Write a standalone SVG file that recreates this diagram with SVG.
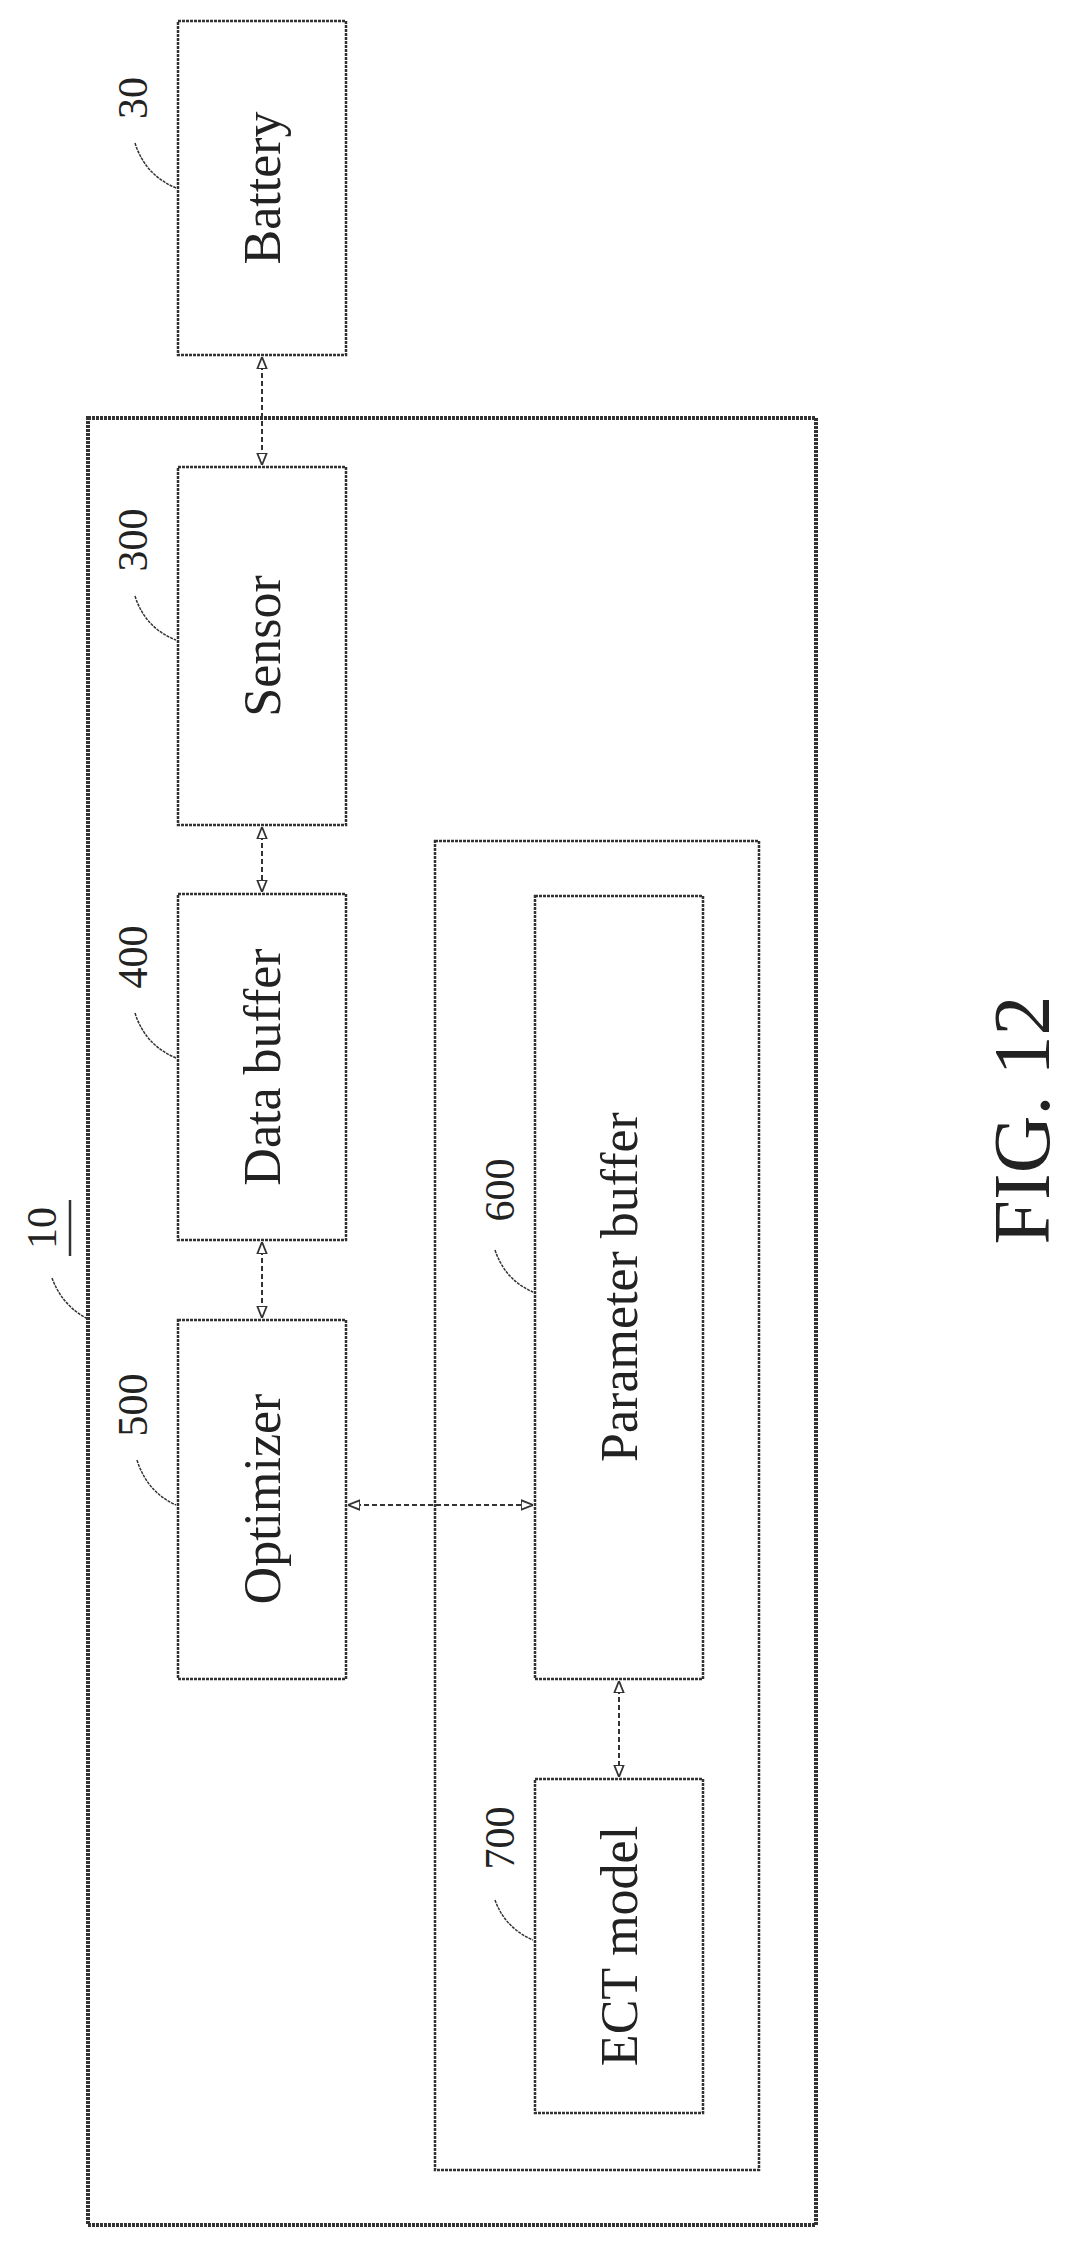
<svg xmlns="http://www.w3.org/2000/svg" width="1084" height="2243" viewBox="0 0 1084 2243">
<style>
.b{fill:none;stroke:#333;stroke-width:2.5;stroke-dasharray:3 1}
.o{fill:none;stroke:#333;stroke-width:4;stroke-dasharray:3 1}
.t{font-family:"Liberation Serif",serif;font-size:52px;fill:#222;text-anchor:middle;dominant-baseline:central}
.n{font-family:"Liberation Serif",serif;font-size:42px;fill:#222;text-anchor:middle;dominant-baseline:central}
.l{fill:none;stroke:#333;stroke-width:1.5;stroke-dasharray:3 1}
.c{fill:none;stroke:#333;stroke-width:2;stroke-dasharray:5 3}
</style>
<defs>
<marker id="a" viewBox="0 0 10 10" refX="10" refY="5" markerWidth="12" markerHeight="12" orient="auto-start-reverse" markerUnits="userSpaceOnUse">
<path d="M0,1 L10,5 L0,9 Z" fill="#fff" stroke="#333" stroke-width="1.5"/>
</marker>
</defs>
<g id="battery"><rect class="b" x="178" y="21" width="168" height="334"/><text class="t" transform="translate(262,188) rotate(-90)">Battery</text><text class="n" transform="translate(133,98) rotate(-90)">30</text><path class="l" d="M135,143 Q145,175 176,188"/></g>
<g id="system10"><rect class="o" x="88" y="418" width="728" height="1807"/><text class="n" transform="translate(42,1228) rotate(-90)">10</text><line x1="70" y1="1200" x2="70" y2="1256" stroke="#333" stroke-width="2.5"/><path class="l" d="M52,1278 Q62,1305 86,1318"/></g>
<g id="sensor"><rect class="b" x="178" y="467" width="168" height="358"/><text class="t" transform="translate(262,646) rotate(-90)">Sensor</text><text class="n" transform="translate(133,540) rotate(-90)">300</text><path class="l" d="M135,596 Q145,628 176,640"/></g>
<g id="databuffer"><rect class="b" x="178" y="894" width="168" height="346"/><text class="t" transform="translate(262,1067) rotate(-90)">Data buffer</text><text class="n" transform="translate(133,957) rotate(-90)">400</text><path class="l" d="M135,1013 Q145,1045 176,1058"/></g>
<g id="optimizer"><rect class="b" x="178" y="1320" width="168" height="359"/><text class="t" transform="translate(262,1499) rotate(-90)">Optimizer</text><text class="n" transform="translate(133,1405) rotate(-90)">500</text><path class="l" d="M137,1460 Q147,1492 176,1505"/></g>
<g id="group"><rect class="b" x="435" y="841" width="324" height="1329"/></g>
<g id="parambuffer"><rect class="b" x="535" y="896" width="168" height="783"/><text class="t" transform="translate(619,1287) rotate(-90)">Parameter buffer</text><text class="n" transform="translate(500,1190) rotate(-90)">600</text><path class="l" d="M495,1250 Q505,1280 533,1292"/></g>
<g id="ectmodel"><rect class="b" x="535" y="1779" width="168" height="334"/><text class="t" transform="translate(619,1946) rotate(-90)">ECT model</text><text class="n" transform="translate(500,1838) rotate(-90)">700</text><path class="l" d="M495,1900 Q505,1928 533,1940"/></g>
<g id="connectors">
<line class="c" x1="262" y1="357" x2="262" y2="465" marker-start="url(#a)" marker-end="url(#a)"/>
<line class="c" x1="262" y1="827" x2="262" y2="892" marker-start="url(#a)" marker-end="url(#a)"/>
<line class="c" x1="262" y1="1242" x2="262" y2="1318" marker-start="url(#a)" marker-end="url(#a)"/>
<line class="c" x1="348" y1="1505" x2="533" y2="1505" marker-start="url(#a)" marker-end="url(#a)"/>
<line class="c" x1="619" y1="1681" x2="619" y2="1777" marker-start="url(#a)" marker-end="url(#a)"/>
</g>
<text font-family="Liberation Serif, serif" font-size="80" fill="#222" text-anchor="middle" dominant-baseline="central" transform="translate(1022,1120) rotate(-90)">FIG. 12</text>
</svg>
